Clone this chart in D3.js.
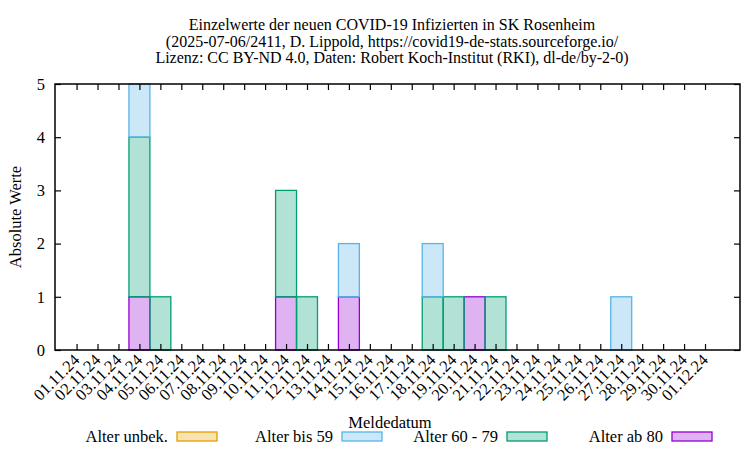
<!DOCTYPE html>
<html>
<head>
<meta charset="utf-8">
<script src="https://cdn.jsdelivr.net/npm/d3@7"></script>
<style>
  body { margin: 0; background: #fff; }
  text { font-family: "Liberation Serif", "DejaVu Serif", serif; fill: #000; }
</style>
</head>
<body>
<div class="chart"></div>
<script>
// Tick labels (report dates)
var dates = ["01.11.24", "02.11.24", "03.11.24", "04.11.24", "05.11.24", "06.11.24",
  "07.11.24", "08.11.24", "09.11.24", "10.11.24", "11.11.24", "12.11.24", "13.11.24",
  "14.11.24", "15.11.24", "16.11.24", "17.11.24", "18.11.24", "19.11.24", "20.11.24",
  "21.11.24", "22.11.24", "23.11.24", "24.11.24", "25.11.24", "26.11.24", "27.11.24",
  "28.11.24", "29.11.24", "30.11.24", "01.12.24"];

// Series values per day
var ab80   = [0,0,0,1,0,0,0,0,0,0,1,0,0,1,0,0,0,0,0,1,0,0,0,0,0,0,0,0,0,0,0];
var alt6079 = [0,0,0,3,1,0,0,0,0,0,2,1,0,0,0,0,0,1,1,0,1,0,0,0,0,0,0,0,0,0,0];
var bis59  = [0,0,0,1,0,0,0,0,0,0,0,0,0,1,0,0,0,1,0,0,0,0,0,0,0,0,1,0,0,0,0];
var unbek  = [0,0,0,0,0,0,0,0,0,0,0,0,0,0,0,0,0,0,0,0,0,0,0,0,0,0,0,0,0,0,0];

var yTicks = [0, 1, 2, 3, 4, 5];

var series = [
  { key: "ab80", label: "Alter ab 80", color: "#9400d3", values: ab80 },
  { key: "a6079", label: "Alter 60 - 79", color: "#009e73", values: alt6079 },
  { key: "bis59", label: "Alter bis 59", color: "#56b4e9", values: bis59 },
  { key: "unbek", label: "Alter unbek.", color: "#e69f00", values: unbek }
];

var svgWidth = 750;
var svgHeight = 450;
var margin = { top: 84, right: 10, bottom: 100, left: 55 };
var width = svgWidth - margin.left - margin.right;
var height = svgHeight - margin.top - margin.bottom;

var svg = d3.select(".chart").append("svg")
  .attr("width", svgWidth)
  .attr("height", svgHeight);

var chartGroup = svg.append("g")
  .attr("transform", `translate(${margin.left}, ${margin.top})`);

// table for d3.stack
var table = dates.map(function (d, i) {
  var row = { date: d, i: i };
  series.forEach(function (s) { row[s.key] = s.values[i]; });
  return row;
});

var stacked = d3.stack().keys(series.map(s => s.key))(table);

var xScale = d3.scaleLinear().domain([-1.03, 31.67]).range([0, width]);
var yScale = d3.scaleLinear().domain([0, 5]).range([height, 0]);

// bars
stacked.forEach(function (layer, k) {
  var s = series[k];
  chartGroup.append("g").selectAll("rect")
    .data(layer.filter(d => d[1] - d[0] > 0))
    .enter()
    .append("rect")
    .attr("x", d => xScale(d.data.i - 0.5))
    .attr("width", d => xScale(d.data.i + 0.5) - xScale(d.data.i - 0.5))
    .attr("y", d => yScale(d[1]))
    .attr("height", d => yScale(d[0]) - yScale(d[1]))
    .attr("fill", s.color)
    .attr("fill-opacity", 0.3)
    .attr("stroke", s.color)
    .attr("stroke-width", 1.3);
});

// axes with inward ticks (mirrored)
var tickIdx = d3.range(dates.length);
var bottomAxis = d3.axisBottom(xScale).tickValues(tickIdx).tickSize(-6).tickFormat("");
var topAxis = d3.axisTop(xScale).tickValues(tickIdx).tickSize(-6).tickFormat("");
var leftAxis = d3.axisLeft(yScale).tickValues(yTicks).tickSize(-6).tickPadding(10).tickFormat(d3.format("d"));
var rightAxis = d3.axisRight(yScale).tickValues(yTicks).tickSize(-6).tickFormat("");

function styleAxis(g) {
  g.select(".domain").remove();
  g.selectAll(".tick line").attr("stroke", "#000").attr("stroke-width", 1.2);
  g.selectAll(".tick text").style("font-size", "16.5px").style("font-family", "Liberation Serif");
}

chartGroup.append("g").attr("transform", `translate(0, ${height})`).call(bottomAxis).call(styleAxis);
chartGroup.append("g").call(topAxis).call(styleAxis);
chartGroup.append("g").call(leftAxis).call(styleAxis);
chartGroup.append("g").attr("transform", `translate(${width}, 0)`).call(rightAxis).call(styleAxis);

// frame
chartGroup.append("rect")
  .attr("width", width)
  .attr("height", height)
  .attr("fill", "none")
  .attr("stroke", "#000")
  .attr("stroke-width", 1.5);

// rotated date labels
chartGroup.append("g").selectAll("text")
  .data(dates)
  .enter()
  .append("text")
  .attr("transform", (d, i) => `translate(${xScale(i) + 4}, ${height + 11}) rotate(-45)`)
  .attr("text-anchor", "end")
  .style("font-size", "16.5px")
  .text(d => d);

// axis titles
svg.append("text")
  .attr("transform", `translate(21, ${margin.top + height / 2}) rotate(-90)`)
  .attr("text-anchor", "middle")
  .style("font-size", "16.5px")
  .text("Absolute Werte");

svg.append("text")
  .attr("x", 390)
  .attr("y", 428)
  .attr("text-anchor", "middle")
  .style("font-size", "16.5px")
  .text("Meldedatum");

// title
var titleLines = [
  "Einzelwerte der neuen COVID-19 Infizierten in SK Rosenheim",
  "(2025-07-06/2411, D. Lippold, https://covid19-de-stats.sourceforge.io/",
  "Lizenz: CC BY-ND 4.0, Daten: Robert Koch-Institut (RKI), dl-de/by-2-0)"
];
svg.append("g").selectAll("text")
  .data(titleLines)
  .enter()
  .append("text")
  .attr("text-anchor", "middle")
  .style("font-size", "16px")
  .attr("x", 392)
  .attr("y", (d, i) => 30 + i * 16.5)
  .text(d => d);

// legend
var legendOrder = [series[3], series[2], series[1], series[0]];
var legend = svg.append("g");
legendOrder.forEach(function (s, i) {
  var x0 = 168 + i * 165;
  legend.append("text")
    .attr("x", x0)
    .attr("y", 442)
    .attr("text-anchor", "end")
    .style("font-size", "16.5px")
    .text(s.label);
  legend.append("rect")
    .attr("x", x0 + 9)
    .attr("y", 432)
    .attr("width", 40)
    .attr("height", 9)
    .attr("fill", s.color)
    .attr("fill-opacity", 0.3)
    .attr("stroke", s.color)
    .attr("stroke-width", 1.3);
});
</script>
</body>
</html>
